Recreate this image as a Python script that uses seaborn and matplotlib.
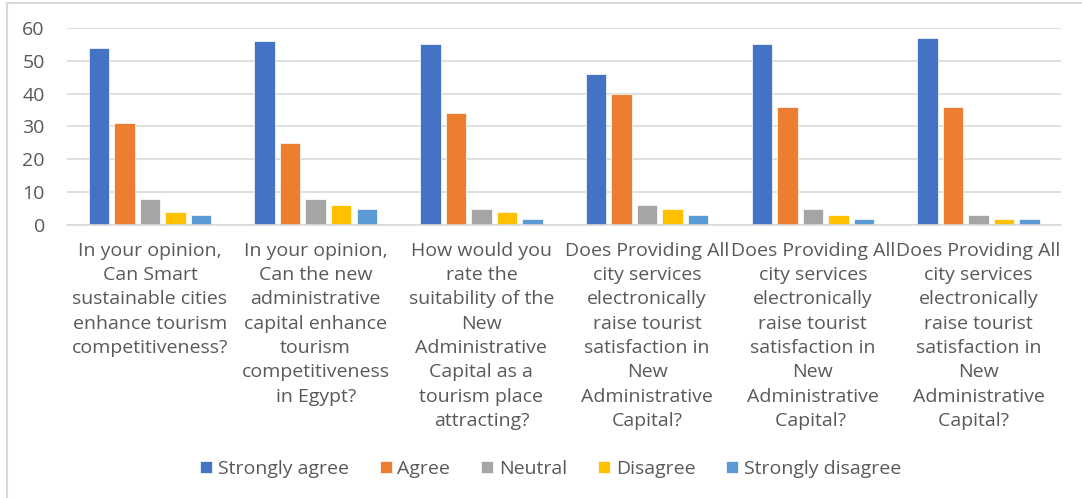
import pandas as pd
import seaborn as sns
import matplotlib.pyplot as plt
from matplotlib.patches import Rectangle

# survey questions (x categories)
questions = [
    "In your opinion,\nCan Smart\nsustainable cities\nenhance tourism\ncompetitiveness?",
    "In your opinion,\nCan the new\nadministrative\ncapital enhance\ntourism\ncompetitiveness\nin Egypt?",
    "How would you\nrate the\nsuitability of the\nNew\nAdministrative\nCapital as a\ntourism place\nattracting?",
    "Does Providing All\ncity services\nelectronically\nraise tourist\nsatisfaction in\nNew\nAdministrative\nCapital?",
    "Does Providing All\ncity services\nelectronically\nraise tourist\nsatisfaction in\nNew\nAdministrative\nCapital? ",
    "Does Providing All\ncity services\nelectronically\nraise tourist\nsatisfaction in\nNew\nAdministrative\nCapital?  ",
]
answers = ["Strongly agree", "Agree", "Neutral", "Disagree", "Strongly disagree"]

strongly_agree = [54, 56, 55, 46, 55, 57]
agree = [31, 25, 34, 40, 36, 36]
neutral = [8, 8, 5, 6, 5, 3]
disagree = [4, 6, 4, 5, 3, 2]
strongly_disagree = [3, 5, 2, 3, 2, 2]

colors = ["#4472C4", "#ED7D31", "#A5A5A5", "#FFC000", "#5B9BD5"]

rows = []
for ans, vals in zip(answers, [strongly_agree, agree, neutral, disagree, strongly_disagree]):
    for q, v in zip(questions, vals):
        rows.append({"question": q, "answer": ans, "count": v})
df = pd.DataFrame(rows)

sns.set_style("white")
plt.rcParams["font.family"] = ["Open Sans", "DejaVu Sans"]
text_col = "#595959"
fs = 14

fig = plt.figure(figsize=(10.82, 4.98), dpi=100)
ax = fig.add_axes([0.062, 0.548, 0.919, 0.396])

sns.barplot(data=df, x="question", y="count", hue="answer", hue_order=answers,
            order=questions, palette=colors, saturation=1, width=0.77, gap=0.2,
            ax=ax, edgecolor="white", linewidth=0.5, legend=True)

ax.set_ylim(0, 60)
ax.set_yticks(range(0, 61, 10))
ax.yaxis.grid(True, color="#D9D9D9", linewidth=1.2)
ax.set_axisbelow(True)
for s in ["top", "right", "left"]:
    ax.spines[s].set_visible(False)
ax.spines["bottom"].set_color("#D9D9D9")
ax.spines["bottom"].set_linewidth(1.2)
ax.tick_params(axis="both", length=0, labelsize=fs, labelcolor=text_col)
ax.tick_params(axis="x", pad=12)
ax.tick_params(axis="y", pad=16)
for lbl in ax.get_xticklabels():
    lbl.set_linespacing(1.45)
    lbl.set_verticalalignment("top")
ax.set_xlabel("")
ax.set_ylabel("")

handles, labels = ax.get_legend_handles_labels()
ax.get_legend().remove()
fig.legend(handles, labels, loc="center", bbox_to_anchor=(0.509, 0.058), ncol=5,
           frameon=False, fontsize=fs, labelcolor=text_col,
           handlelength=0.6, handleheight=0.6, handletextpad=0.3, columnspacing=1.6)

# chart frame
fig.patches.append(Rectangle((7 / 1082, -0.1), 1.2, 1 - 3 / 498 + 0.1,
                             transform=fig.transFigure, fill=False,
                             edgecolor="#D9D9D9", linewidth=1.5))

fig.savefig("out.png", dpi=100)
